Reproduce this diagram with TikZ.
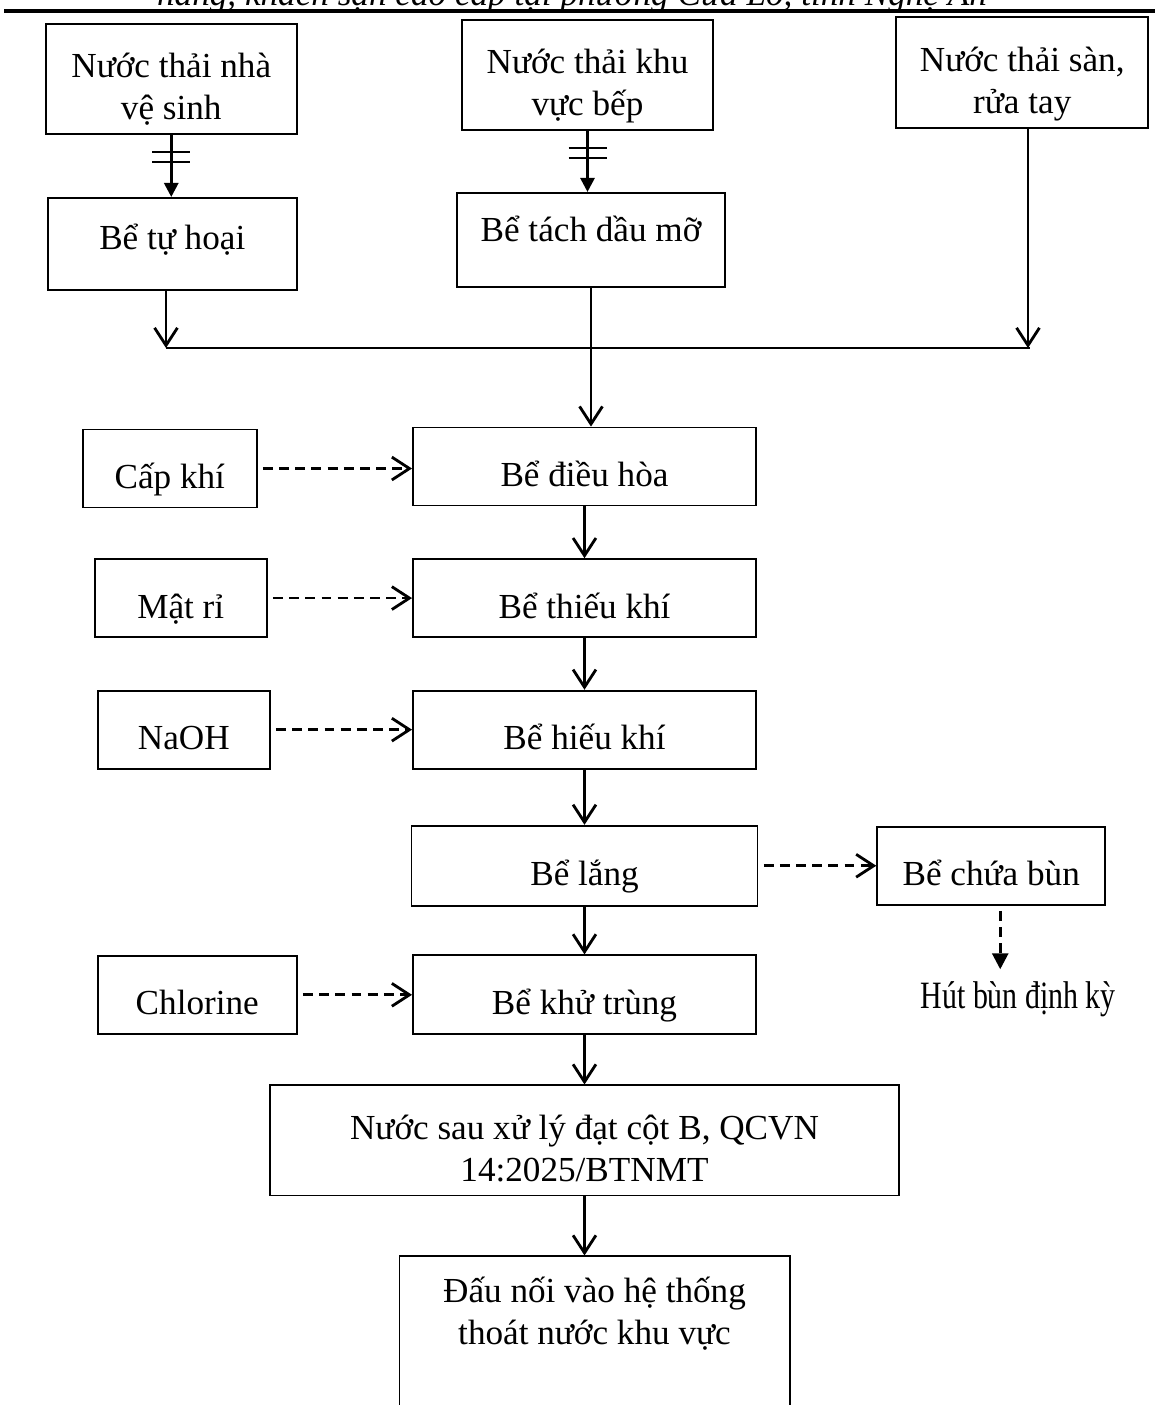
\documentclass[tikz,border=0pt]{standalone}
\usepackage{graphicx}
\usepackage{fontspec}
\setmainfont{Liberation Serif}
\usetikzlibrary{arrows.meta, positioning}

\begin{document}
\begin{tikzpicture}[
    x=0.01cm, y=-0.01cm,
    node distance=1.315cm,
    font=\fontsize{10}{11.95}\selectfont,
    box/.style={rectangle, draw, line width=0.5pt, inner sep=1pt},
    src/.style={box, align=center, minimum width=2.51cm, minimum height=1.10cm, text height=0.85cm, text depth=0.03cm},
    proc/.style={box, minimum width=3.43cm, minimum height=0.78cm, text height=0.45cm, text depth=0.05cm},
    side/.style={box, minimum height=0.78cm, text height=0.45cm, text depth=0.05cm},
    flow/.style={-{Straight Barb[length=5pt, width=6.5pt]}, line width=0.8pt},
    dflow/.style={flow, dash pattern=on 2.8pt off 1.8pt, shorten <=1.5pt},
    feed/.style={-{Triangle[length=4pt, width=4pt]}, line width=0.8pt}
]
    \path[use as bounding box, clip] (0,0) rectangle (1155,1405);

    % 页眉
    \node[font=\fontsize{10}{11.95}\selectfont\itshape, anchor=base] (hdr) at (572,5) {hàng, khách sạn cao cấp tại phường Cửa Lò, tỉnh Nghệ An};
    \draw[line width=0.9pt] (4,11) -- (1155,11);

    % 主线
    \node[proc] (dieuhoa) at (584.5,466.5) {Bể điều hòa};
    \node[proc] (thieukhi) [below of=dieuhoa] {Bể thiếu khí};
    \node[proc] (hieukhi) [below of=thieukhi] {Bể hiếu khí};
    \node[proc, minimum width=3.46cm, minimum height=0.80cm] (lang) [below of=hieukhi, yshift=-0.045cm] {Bể lắng};
    \node[proc, minimum height=0.79cm] (khutrung) [below of=lang, yshift=0.025cm] {Bể khử trùng};
    \node[src, minimum width=6.29cm] (nuocsau) [below of=khutrung, yshift=-0.14cm] {Nước sau xử lý đạt cột B, QCVN\\14:2025/BTNMT};
    \node[src, minimum width=3.90cm, minimum height=0cm, text depth=1.0cm] (daunoi) [below of=nuocsau, anchor=north, xshift=0.1cm, yshift=0.165cm] {Đấu nối vào hệ thống\\thoát nước khu vực};

    % 来源
    \node[box, minimum width=2.68cm, minimum height=0.94cm, text height=0.3cm, text depth=0.27cm] (tachdau) [above of=dieuhoa, xshift=0.065cm, yshift=0.95cm] {Bể tách dầu mỡ};
    \node[src] (src2) [above of=tachdau, xshift=-0.035cm, yshift=0.335cm] {Nước thải khu\\vực bếp};
    \node[box, minimum width=2.49cm, minimum height=0.92cm, text height=0.35cm, text depth=0.24cm] (tuhoai) [left of=tachdau, xshift=-2.87cm, yshift=-0.04cm] {Bể tự hoại};
    \node[src] (src1) [above of=tuhoai, xshift=-0.01cm, yshift=0.335cm] {Nước thải nhà\\vệ sinh};
    \node[src, minimum width=2.52cm, minimum height=1.11cm] (src3) [right of=src2, xshift=3.03cm, yshift=0.025cm] {Nước thải sàn,\\rửa tay};

    % 投加
    \node[side, minimum width=1.74cm] (capkhi) [left of=dieuhoa, xshift=-2.83cm, yshift=-0.02cm] {Cấp khí};
    \node[side, minimum width=1.72cm] (matri) [left of=thieukhi, xshift=-2.72cm] {Mật rỉ};
    \node[side, minimum width=1.72cm] (naoh) [left of=hieukhi, xshift=-2.69cm] {NaOH};
    \node[side, minimum width=1.99cm] (chlorine) [left of=khutrung, xshift=-2.555cm] {Chlorine};

    % 污泥
    \node[side, minimum width=2.28cm] (chuabun) [right of=lang, xshift=2.75cm] {Bể chứa bùn};
    \node (hutbun) [below of=chuabun, xshift=0.27cm, yshift=-0.02cm] {\scalebox{0.85}[1.1]{Hút bùn định kỳ}};

    % 连线
    \coordinate (jl) at (166,348);
    \coordinate (jr) at (1028,348);

    \draw[feed] (src1.south) -- (src1.south |- tuhoai.north);
    \draw[line width=0.5pt] (src1.south) ++(-19,17) -- ++(38,0) (src1.south) ++(-19,27) -- ++(38,0);
    \draw[feed] (src2.south) -- (src2.south |- tachdau.north);
    \draw[line width=0.5pt] (src2.south) ++(-19,17) -- ++(38,0) (src2.south) ++(-19,27) -- ++(38,0);

    \draw[flow] (tuhoai.south -| jl) -- (jl);
    \draw[flow] (src3.south -| jr) -- (jr);
    \draw[line width=0.5pt] (jl) -- ([xshift=0.02cm]jr);
    \draw[flow] (tachdau.south) -- (tachdau.south |- dieuhoa.north);

    \draw[flow] (dieuhoa) -- (thieukhi);
    \draw[flow] (thieukhi) -- (hieukhi);
    \draw[flow] (hieukhi) -- (lang);
    \draw[flow] (lang) -- (khutrung);
    \draw[flow] (khutrung) -- (nuocsau);
    \draw[flow] (nuocsau.south) -- (nuocsau.south |- daunoi.north);

    \draw[dflow] (capkhi.east) -- (capkhi.east -| dieuhoa.west);
    \draw[dflow] (matri.east) -- (matri.east -| thieukhi.west);
    \draw[dflow] (naoh.east) -- (naoh.east -| hieukhi.west);
    \draw[dflow] (chlorine.east) -- (chlorine.east -| khutrung.west);
    \draw[dflow] (lang.east) -- (lang.east -| chuabun.west);
    \draw[dflow, -{Triangle[length=4.5pt, width=4.5pt]}] ([xshift=0.09cm]chuabun.south) -- ([xshift=0.09cm]chuabun.south |- hutbun.north);
\end{tikzpicture}
\end{document}
